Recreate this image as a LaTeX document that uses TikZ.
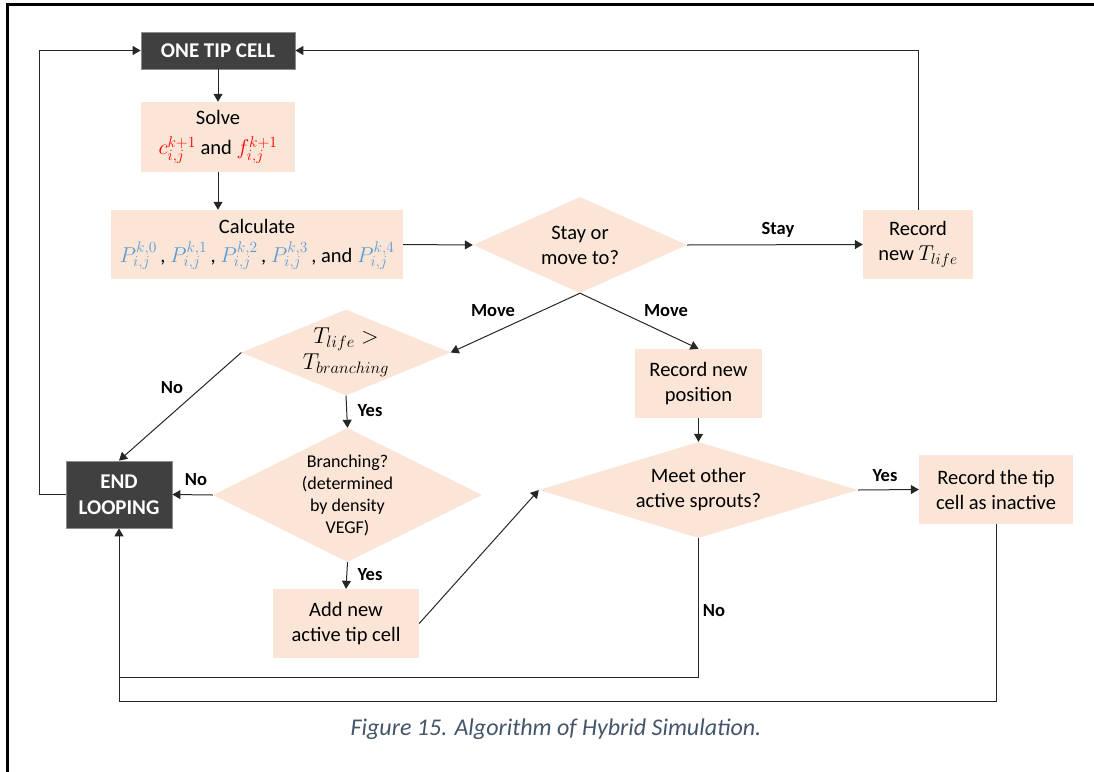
\RequirePackage{fix-cm}
\documentclass[tikz,border=0pt]{standalone}
\usepackage{fontspec}
\setmainfont{Carlito}
\usetikzlibrary{shapes.geometric,arrows.meta}
\DeclareMathSizes{20.5}{21.5}{15.5}{11}
\DeclareMathSizes{21}{23}{16.5}{12}
\definecolor{peach}{HTML}{FBE5D6}
\definecolor{darkbox}{HTML}{404040}
\definecolor{pred}{HTML}{FF0000}
\definecolor{pblue}{HTML}{5B9BD5}
\definecolor{capcol}{HTML}{44546A}
\newcommand\bodyfnt{\fontsize{20.5}{25}\selectfont}
\newcommand\smallfnt{\fontsize{18}{22}\selectfont}
\newcommand\labfnt{\fontsize{18.5}{22}\selectfont\bfseries}
\newcommand\darkfnt{\fontsize{21}{26}\selectfont\bfseries}
\tikzset{
  pbox/.style={rectangle, fill=peach, inner sep=0pt, align=center, font=\bodyfnt},
  dbox/.style={rectangle, fill=darkbox, draw=black!45, line width=0.8pt, text=white, inner sep=0pt, align=center, font=\darkfnt},
  dia/.style={diamond, fill=peach, inner sep=0pt},
  diatext/.style={align=center, font=\bodyfnt, inner sep=0pt},
  conn/.style={line width=1pt, draw=black!85},
  arr/.style={conn, -{Triangle[length=8pt,width=9pt]}},
  lab/.style={font=\labfnt, inner sep=0pt},
}
\begin{document}
\begin{tikzpicture}[x=1pt,y=-1pt]
\useasboundingbox (0,0) rectangle (1094,771);
% frame
\draw[line width=2.4pt] (7.5,775) -- (7.5,4.6) -- (1098,4.6);

% nodes
\node[dbox, minimum width=154, minimum height=37] (one) at (218,50.5) {ONE TIP CELL};
\node[pbox, minimum width=154, minimum height=70] (solve) at (218,137)
  {Solve\\[5pt]{\color{pred}$c^{k+1}_{i,j}$} and {\color{pred}$f^{k+1}_{i,j}$}};
\node[pbox, minimum width=292, minimum height=69] (calc) at (257,244.5)
  {Calculate\\[4pt]{\color{pblue}$P^{k,0}_{i,j}$}\,, {\color{pblue}$P^{k,1}_{i,j}$}\,, {\color{pblue}$P^{k,2}_{i,j}$}\,, {\color{pblue}$P^{k,3}_{i,j}$}\,, and {\color{pblue}$P^{k,4}_{i,j}$}};
\node[dia, minimum width=214, minimum height=96] (stay) at (580,245) {};
\node[diatext] at (stay) {Stay or\\move to?};
\node[pbox, minimum width=110, minimum height=69] (rlife) at (918,244.5) {Record\\new $T_{life}$};
\node[dia, minimum width=209, minimum height=86] (tlife) at (346,352.5) {};
\node[diatext, font=\fontsize{21}{26}\selectfont] at (tlife) {$T_{life} >$\\$T_{branching}$};
\node[pbox, minimum width=127, minimum height=69] (rpos) at (698.5,383.5) {Record new\\position};
\node[dbox, minimum width=106, minimum height=67] (endl) at (119,494.5) {END\\LOOPING};
\node[dia, minimum width=269, minimum height=134] (branch) at (347.5,495) {};
\node[diatext, font=\smallfnt] at (branch) {Branching?\\(determined\\by density\\VEGF)};
\node[dia, minimum width=319, minimum height=96] (meet) at (698.5,490) {};
\node[diatext] at (meet) {Meet other\\active sprouts?};
\node[pbox, minimum width=154, minimum height=69] (rtip) at (996,489.5) {Record the tip\\cell as inactive};
\node[pbox, minimum width=146, minimum height=69] (addnew) at (346,623.5) {Add new\\active tip cell};

\coordinate (j1) at (119,677);
\coordinate (j2) at (119,701);
\coordinate (lft) at (39,494.5);

% connectors
\draw[arr] (one.south) -- (solve.north);
\draw[arr] (solve.south) -- (solve.south |- calc.north);
\draw[arr] (calc.east) -- (stay.west);
\draw[arr] (stay.east) -- (rlife.west);
\draw[arr] (rlife.north) |- (one.east);
\draw[arr] (stay.south) -- (tlife.east);
\draw[arr] (stay.south) -- (rpos.north);
\draw[arr] (tlife.west) -- (endl.north);
\draw[arr] (tlife.south) -- (branch.north);
\draw[arr] (branch.west) -- (endl.east);
\draw[arr] (branch.south) -- (addnew.north);
\draw[arr] (addnew.east) -- (meet.west);
\draw[arr] (rpos.south) -- (meet.north);
\draw[arr] (meet.east) -- (rtip.west);
\draw[conn] (meet.south) |- (j1);
\draw[arr] (rtip.south) |- (j2) -- (endl.south);
\draw[arr] (endl.west) -- (lft) |- (one.west);

% labels
\node[lab] at (778,230) {Stay};
\node[lab] at (493,311) {Move};
\node[lab] at (666,311) {Move};
\node[lab] at (172,388) {No};
\node[lab] at (370,411) {Yes};
\node[lab] at (196,480) {No};
\node[lab] at (370,575) {Yes};
\node[lab] at (885,476) {Yes};
\node[lab] at (714,611) {No};

% caption
\node[font=\fontsize{24}{28}\selectfont\itshape, text=capcol] (cap) at (556,729) {Figure 15. Algorithm of Hybrid Simulation.};
\end{tikzpicture}
\end{document}
